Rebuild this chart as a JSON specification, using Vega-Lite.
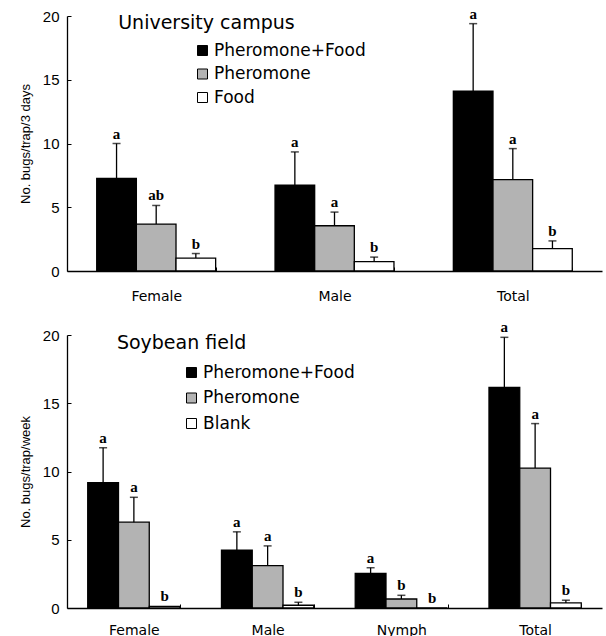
{
  "$schema": "https://vega.github.io/schema/vega-lite/v6.json",
  "background": "white",
  "padding": {"left": 19, "top": 6, "right": 3, "bottom": 0},
  "spacing": 17,
  "config": {
    "view": {"stroke": null},
    "axisY": {"domainColor": "black", "domainWidth": 1.3, "tickColor": "black", "tickSize": -4, "labelPadding": 12, "labelFont": "Liberation Sans", "labelFontSize": 15, "labelColor": "black", "titleFont": "Liberation Sans", "titleFontSize": 13, "titleFontWeight": "normal", "titleColor": "black", "titlePadding": 10, "grid": false},
    "axisX": {"domainColor": "black", "domainWidth": 1.3, "tickColor": "black", "tickSize": -4, "tickBand": "extent", "labelFont": "DejaVu Sans", "labelFontSize": 14, "labelColor": "black", "labelAngle": 0, "title": null, "grid": false},
    "legend": {"orient": "none", "title": null, "padding": 0, "symbolType": "square", "symbolSize": 100, "symbolStrokeColor": "black", "symbolStrokeWidth": 1, "labelFont": "DejaVu Sans", "labelFontSize": 17, "labelColor": "black", "labelOffset": 3, "labelLimit": 300}
  },
  "datasets": {
    "campus": [
      {"group": "Female", "trt": "Pheromone+Food", "value": 7.26, "err": 10.0, "letter": "a"},
      {"group": "Female", "trt": "Pheromone", "value": 3.68, "err": 5.14, "letter": "ab"},
      {"group": "Female", "trt": "Food", "value": 1.01, "err": 1.37, "letter": "b"},
      {"group": "Male", "trt": "Pheromone+Food", "value": 6.74, "err": 9.34, "letter": "a"},
      {"group": "Male", "trt": "Pheromone", "value": 3.55, "err": 4.62, "letter": "a"},
      {"group": "Male", "trt": "Food", "value": 0.73, "err": 1.09, "letter": "b"},
      {"group": "Total", "trt": "Pheromone+Food", "value": 14.1, "err": 19.4, "letter": "a"},
      {"group": "Total", "trt": "Pheromone", "value": 7.16, "err": 9.6, "letter": "a"},
      {"group": "Total", "trt": "Food", "value": 1.76, "err": 2.36, "letter": "b"}
    ],
    "soy": [
      {"group": "Female", "trt": "Pheromone+Food", "value": 9.19, "err": 11.74, "letter": "a"},
      {"group": "Female", "trt": "Pheromone", "value": 6.29, "err": 8.11, "letter": "a"},
      {"group": "Female", "trt": "Blank", "value": 0.12, "err": 0.12, "letter": "b"},
      {"group": "Male", "trt": "Pheromone+Food", "value": 4.23, "err": 5.58, "letter": "a"},
      {"group": "Male", "trt": "Pheromone", "value": 3.1, "err": 4.55, "letter": "a"},
      {"group": "Male", "trt": "Blank", "value": 0.2, "err": 0.42, "letter": "b"},
      {"group": "Nymph", "trt": "Pheromone+Food", "value": 2.53, "err": 2.95, "letter": "a"},
      {"group": "Nymph", "trt": "Pheromone", "value": 0.66, "err": 0.93, "letter": "b"},
      {"group": "Nymph", "trt": "Blank", "value": 0, "err": 0, "letter": "b"},
      {"group": "Total", "trt": "Pheromone+Food", "value": 16.17, "err": 19.83, "letter": "a"},
      {"group": "Total", "trt": "Pheromone", "value": 10.25, "err": 13.51, "letter": "a"},
      {"group": "Total", "trt": "Blank", "value": 0.37, "err": 0.57, "letter": "b"}
    ]
  },
  "resolve": {"scale": {"x": "independent", "xOffset": "independent", "fill": "independent", "y": "independent"}, "legend": {"fill": "independent"}},
  "vconcat": [
    {
      "width": 535,
      "height": 255,
      "encoding": {
        "x": {"field": "group", "type": "nominal", "sort": ["Female", "Male", "Total"], "scale": {"paddingInner": 0.333, "paddingOuter": 0.1667}, "axis": {"labelPadding": 22}}
      },
      "layer": [
        {
          "data": {"name": "campus"},
          "mark": {"type": "bar", "stroke": "black", "strokeWidth": 1.3},
          "encoding": {
            "xOffset": {"field": "trt", "type": "nominal", "sort": ["Pheromone+Food", "Pheromone", "Food"], "scale": {"paddingInner": 0, "paddingOuter": 0}},
            "y": {"field": "value", "type": "quantitative", "title": "No. bugs/trap/3 days", "scale": {"domain": [0, 20], "nice": false}, "axis": {"values": [0, 5, 10, 15, 20]}},
            "fill": {"field": "trt", "type": "nominal", "scale": {"domain": ["Pheromone+Food", "Pheromone", "Food"], "range": ["#000000", "#b3b3b3", "#ffffff"]}, "legend": {"legendX": 127, "legendY": 26, "rowPadding": 5.5}}
          }
        },
        {
          "data": {"name": "campus"},
          "transform": [{"filter": "datum.err > datum.value"}],
          "mark": {"type": "rule", "color": "black", "strokeWidth": 1.3},
          "encoding": {
            "xOffset": {"field": "trt", "type": "nominal", "sort": ["Pheromone+Food", "Pheromone", "Food"]},
            "y": {"field": "value", "type": "quantitative", "title": "No. bugs/trap/3 days"}, "y2": {"field": "err"}}
        },
        {
          "data": {"name": "campus"},
          "transform": [{"filter": "datum.err > datum.value"}],
          "mark": {"type": "tick", "color": "black", "size": 8, "thickness": 1.5},
          "encoding": {
            "xOffset": {"field": "trt", "type": "nominal", "sort": ["Pheromone+Food", "Pheromone", "Food"]},
            "y": {"field": "err", "type": "quantitative", "title": "No. bugs/trap/3 days"}}
        },
        {
          "data": {"name": "campus"},
          "mark": {"type": "text", "font": "Liberation Serif", "fontSize": 15, "fontWeight": "bold", "baseline": "alphabetic", "dy": -5, "color": "black"},
          "encoding": {
            "xOffset": {"field": "trt", "type": "nominal", "sort": ["Pheromone+Food", "Pheromone", "Food"]},
            "y": {"field": "err", "type": "quantitative", "title": "No. bugs/trap/3 days"}, "text": {"field": "letter"}}
        },
        {
          "data": {"values": [{"group": "Female", "ty": 19.45, "label": "University campus"}]},
          "mark": {"type": "text", "font": "DejaVu Sans", "fontSize": 19, "align": "left", "baseline": "middle", "dx": -38, "color": "black"},
          "encoding": {"y": {"field": "ty", "type": "quantitative", "title": "No. bugs/trap/3 days"}, "text": {"field": "label"}}
        }
      ]
    },
    {
      "width": 535,
      "height": 273,
      "encoding": {
        "x": {"field": "group", "type": "nominal", "sort": ["Female", "Male", "Nymph", "Total"], "scale": {"paddingInner": 0.31, "paddingOuter": 0.155}, "axis": {"labelPadding": 19}}
      },
      "layer": [
        {
          "data": {"name": "soy"},
          "mark": {"type": "bar", "stroke": "black", "strokeWidth": 1.3},
          "encoding": {
            "xOffset": {"field": "trt", "type": "nominal", "sort": ["Pheromone+Food", "Pheromone", "Blank"], "scale": {"paddingInner": 0, "paddingOuter": 0}},
            "y": {"field": "value", "type": "quantitative", "title": "No. bugs/trap/week", "scale": {"domain": [0, 20], "nice": false}, "axis": {"values": [0, 5, 10, 15, 20]}},
            "fill": {"field": "trt", "type": "nominal", "scale": {"domain": ["Pheromone+Food", "Pheromone", "Blank"], "range": ["#000000", "#b3b3b3", "#ffffff"]}, "legend": {"legendX": 116, "legendY": 29, "rowPadding": 7.5}}
          }
        },
        {
          "data": {"name": "soy"},
          "transform": [{"filter": "datum.err > datum.value"}],
          "mark": {"type": "rule", "color": "black", "strokeWidth": 1.3},
          "encoding": {
            "xOffset": {"field": "trt", "type": "nominal", "sort": ["Pheromone+Food", "Pheromone", "Blank"]},
            "y": {"field": "value", "type": "quantitative", "title": "No. bugs/trap/week"}, "y2": {"field": "err"}}
        },
        {
          "data": {"name": "soy"},
          "transform": [{"filter": "datum.err > datum.value"}],
          "mark": {"type": "tick", "color": "black", "size": 8, "thickness": 1.5},
          "encoding": {
            "xOffset": {"field": "trt", "type": "nominal", "sort": ["Pheromone+Food", "Pheromone", "Blank"]},
            "y": {"field": "err", "type": "quantitative", "title": "No. bugs/trap/week"}}
        },
        {
          "data": {"name": "soy"},
          "mark": {"type": "text", "font": "Liberation Serif", "fontSize": 15, "fontWeight": "bold", "baseline": "alphabetic", "dy": -5, "color": "black"},
          "encoding": {
            "xOffset": {"field": "trt", "type": "nominal", "sort": ["Pheromone+Food", "Pheromone", "Blank"]},
            "y": {"field": "err", "type": "quantitative", "title": "No. bugs/trap/week"}, "text": {"field": "letter"}}
        },
        {
          "data": {"values": [{"group": "Female", "ty": 19.4, "label": "Soybean field"}]},
          "mark": {"type": "text", "font": "DejaVu Sans", "fontSize": 19, "align": "left", "baseline": "middle", "dx": -17, "color": "black"},
          "encoding": {"y": {"field": "ty", "type": "quantitative", "title": "No. bugs/trap/week"}, "text": {"field": "label"}}
        }
      ]
    }
  ]
}
